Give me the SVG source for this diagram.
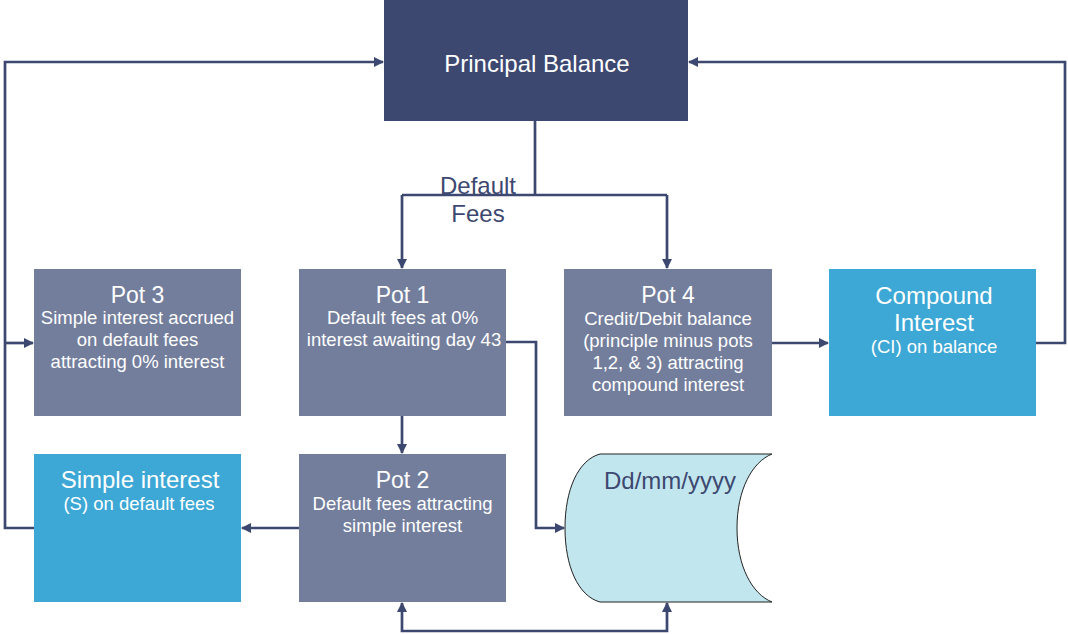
<svg xmlns="http://www.w3.org/2000/svg" width="1068" height="634" viewBox="0 0 1068 634">
<style>
.dark{fill:#3D4870}
.pot{fill:#737E9C}
.blue{fill:#3DA7D5}
.t{font-family:"Liberation Sans",Arial,sans-serif;fill:#FFFFFF;text-anchor:middle}
.h{font-size:23px}
.hb{font-size:24px}
.s{font-size:18.5px}
.lbl{font-family:"Liberation Sans",Arial,sans-serif;fill:#3D4870;text-anchor:middle;font-size:24px}
.c{fill:none;stroke:#3D4870;stroke-width:2.7}
</style>
<defs>
<marker id="ah" markerWidth="10" markerHeight="10" refX="9" refY="5" orient="auto" markerUnits="userSpaceOnUse">
<path d="M0,0 L10,5 L0,10 Z" fill="#3D4870"/>
</marker>
<marker id="as" markerWidth="10" markerHeight="10" refX="9" refY="5" orient="auto-start-reverse" markerUnits="userSpaceOnUse">
<path d="M0,0 L10,5 L0,10 Z" fill="#3D4870"/>
</marker>
</defs>
<rect width="1068" height="634" fill="#FFFFFF"/>
<g id="connectors">
<path class="c" d="M535,121 V195 M402,195 H667" />
<path class="c" d="M402,195 V268" marker-end="url(#ah)"/>
<path class="c" d="M667,195 V268" marker-end="url(#ah)"/>
<path class="c" d="M34,528 H5 V62 H383" marker-end="url(#ah)"/>
<path class="c" d="M5,343 H33" marker-end="url(#ah)"/>
<path class="c" d="M1036,343 H1065 V62 H689" marker-end="url(#ah)"/>
<path class="c" d="M402,416 V453" marker-end="url(#ah)"/>
<path class="c" d="M506,342 H536 V528 H564" marker-end="url(#ah)"/>
<path class="c" d="M772,343 H828" marker-end="url(#ah)"/>
<path class="c" d="M299,528 H242" marker-end="url(#ah)"/>
<path class="c" d="M402,603 V631 H667 V603" marker-start="url(#as)" marker-end="url(#ah)"/>
</g>
<g id="principal">
<rect class="dark" x="384" y="0" width="304" height="121"/>
<text class="t hb" x="537" y="72">Principal Balance</text>
</g>
<g id="default-fees-label">
<text class="lbl" x="478" y="194">Default</text>
<text class="lbl" x="478" y="222">Fees</text>
</g>
<g id="pot3">
<rect class="pot" x="34" y="269" width="207" height="147"/>
<text class="t h" x="137.5" y="303">Pot 3</text>
<text class="t s" x="137.5" y="324">Simple interest accrued</text>
<text class="t s" x="137.5" y="346">on default fees</text>
<text class="t s" x="137.5" y="368">attracting 0% interest</text>
</g>
<g id="pot1">
<rect class="pot" x="299" y="269" width="207" height="147"/>
<text class="t h" x="402.5" y="303">Pot 1</text>
<text class="t s" x="402.5" y="324">Default fees at 0%</text>
<text class="t s" x="404" y="346">interest awaiting day 43</text>
</g>
<g id="pot4">
<rect class="pot" x="564" y="269" width="208" height="147"/>
<text class="t h" x="668" y="303">Pot 4</text>
<text class="t s" x="668" y="325">Credit/Debit balance</text>
<text class="t s" x="668" y="347">(principle minus pots</text>
<text class="t s" x="668" y="369">1,2, &amp; 3) attracting</text>
<text class="t s" x="668" y="391">compound interest</text>
</g>
<g id="compound">
<rect class="blue" x="829" y="269" width="207" height="147"/>
<text class="t hb" x="934" y="304">Compound</text>
<text class="t hb" x="934" y="331">Interest</text>
<text class="t s" x="934" y="353">(CI) on balance</text>
</g>
<g id="simple">
<rect class="blue" x="34" y="454" width="207" height="148"/>
<text class="t hb" x="140" y="488">Simple interest</text>
<text class="t s" x="139" y="510">(S) on default fees</text>
</g>
<g id="pot2">
<rect class="pot" x="299" y="454" width="207" height="148"/>
<text class="t h" x="402.5" y="488">Pot 2</text>
<text class="t s" x="402.5" y="510">Default fees attracting</text>
<text class="t s" x="402.5" y="532">simple interest</text>
</g>
<g id="date">
<path d="M600,454 L772,454 C752,462 737,490 737,528 C737,566 752,594 772,602 L600,602 C578,596 565,566 565,528 C565,490 578,460 600,454 Z" fill="#C2E6EE" stroke="#222222" stroke-width="1"/>
<text class="lbl" x="670" y="489">Dd/mm/yyyy</text>
</g>
</svg>
